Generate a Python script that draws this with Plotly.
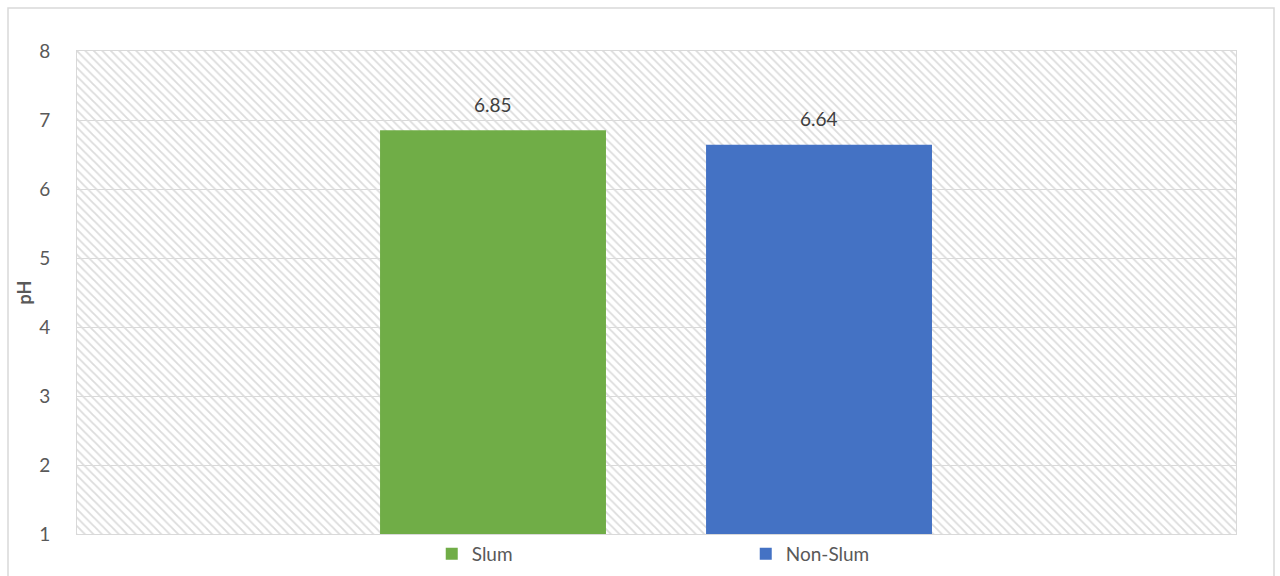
import plotly.graph_objects as go

series = ["Slum", "Non-Slum"]
values = [6.85, 6.64]
colors = ["#70AD47", "#4472C4"]
y_range = [1, 8]
y_ticks = [1, 2, 3, 4, 5, 6, 7, 8]

FONT = "Lato"
GRAY = "#595959"
LINE = "#D9D9D9"

fig = go.Figure()

# hatched plot-area background (decorative bar spanning the axis)
fig.add_trace(go.Bar(
    x=[0], y=[y_range[1] - y_range[0]], base=[y_range[0]], width=[1],
    xaxis="x", yaxis="y",
    marker=dict(color="rgba(0,0,0,0)", line=dict(width=0),
                pattern=dict(shape="\\", fgcolor="#DCDCDC", bgcolor="rgba(0,0,0,0)",
                             size=6, solidity=0.3, fillmode="replace")),
    showlegend=False, hoverinfo="skip",
))

annotations = []
for name, v, c in zip(series, values, colors):
    fig.add_trace(go.Bar(
        x=[name], y=[v], name=name, xaxis="x2", yaxis="y",
        marker=dict(color=c, line=dict(width=0)), width=0.693,
    ))
    annotations.append(dict(x=name, y=v, xref="x2", yref="y", text=f"{v:.2f}",
                            showarrow=False, yanchor="middle", yshift=26,
                            font=dict(family=FONT, size=19, color="#404040")))

L, R, T, B = 77, 44, 51, 42
W, H = 1280, 576
pw, ph = W - L - R, H - T - B

fig.update_layout(
    width=W, height=H,
    margin=dict(l=L, r=R, t=T, b=B, autoexpand=False),
    paper_bgcolor="white", plot_bgcolor="white",
    font=dict(family=FONT, size=19, color=GRAY),
    barmode="overlay",
    xaxis=dict(range=[-0.5, 0.5], showticklabels=False, showgrid=False, zeroline=False,
               showline=True, linecolor=LINE, linewidth=1, mirror=True, fixedrange=True),
    xaxis2=dict(overlaying="x", type="category", range=[-1.276, 2.279],
                showticklabels=False, showgrid=False, zeroline=False, showline=False),
    yaxis=dict(range=y_range, tickvals=y_ticks, showgrid=True, gridcolor=LINE, gridwidth=1,
               zeroline=False, showline=True, linecolor=LINE, mirror=True,
               ticks="", ticklabelstandoff=22,
               tickfont=dict(family=FONT, size=19, color=GRAY),
               title=dict(text="<b>pH</b>", standoff=2,
                          font=dict(family=FONT, size=18, color=GRAY))),
    legend=dict(orientation="h", x=0.577, xanchor="center", y=-0.041, yanchor="middle",
                font=dict(family=FONT, size=19, color=GRAY), itemwidth=30,
                entrywidth=269, entrywidthmode="pixels", traceorder="normal"),
    annotations=annotations,
    shapes=[dict(type="rect", xref="paper", yref="paper",
                 x0=(8 - L) / pw, x1=(1274 - L) / pw,
                 y0=(H - T - 600) / ph, y1=(ph + T - 8) / ph,
                 line=dict(color=LINE, width=1.5), fillcolor="rgba(0,0,0,0)", layer="below")],
)

fig.write_html("out.html")
